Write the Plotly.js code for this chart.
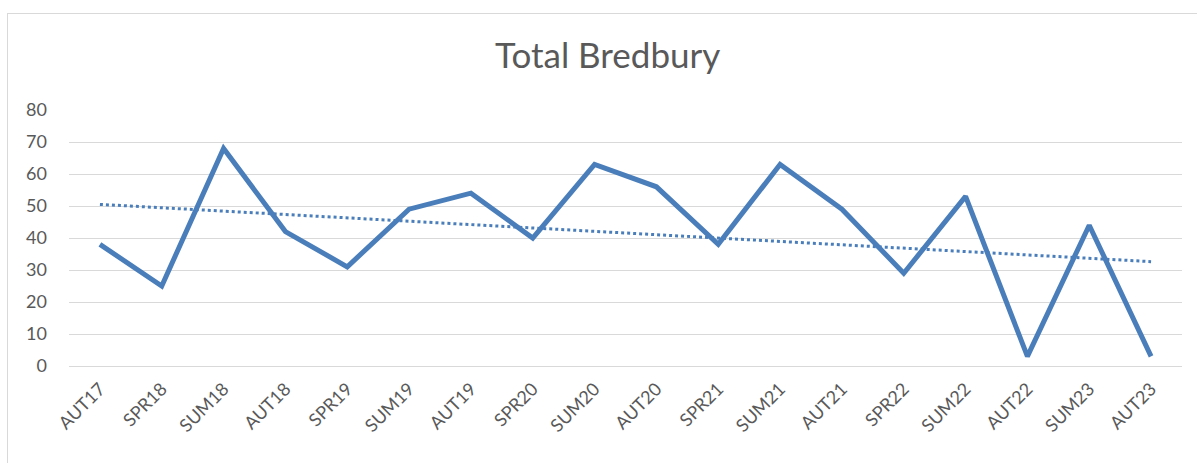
<!DOCTYPE html>
<html>
<head>
<meta charset="utf-8">
<script src="https://cdn.plot.ly/plotly-3.0.1.min.js"></script>
<style>
  html, body { margin: 0; padding: 0; background: #fff; overflow: hidden; }
  #frame { position: absolute; left: 7px; top: 13px; width: 1300px; height: 600px; border: 1px solid #d9d9d9; }
  #chart { position: absolute; left: 0; top: 0; width: 1197px; height: 463px; }
</style>
</head>
<body>
<div id="frame"></div>
<div id="chart"></div>
<script>
const categories = ["AUT17","SPR18","SUM18","AUT18","SPR19","SUM19","AUT19","SPR20","SUM20","AUT20","SPR21","SUM21","AUT21","SPR22","SUM22","AUT22","SUM23","AUT23"];
const totals = [38, 25, 68, 42, 31, 49, 54, 40, 63, 56, 38, 63, 49, 29, 53, 3, 44, 3];
const yTicks = [0, 10, 20, 30, 40, 50, 60, 70, 80];

// linear trendline (least squares) derived from the series
const n = totals.length;
const xs = totals.map((_, i) => i + 1);
const mx = xs.reduce((a, b) => a + b, 0) / n;
const my = totals.reduce((a, b) => a + b, 0) / n;
let sxy = 0, sxx = 0;
for (let i = 0; i < n; i++) { sxy += (xs[i] - mx) * (totals[i] - my); sxx += (xs[i] - mx) ** 2; }
const slope = sxy / sxx, intercept = my - slope * mx;
const trend = xs.map(x => intercept + slope * x);

const color = "#4a7ebb";
const data = [
  { x: categories, y: totals, type: "scatter", mode: "lines", line: { color: color, width: 5 }, hoverinfo: "x+y" },
  { x: categories, y: trend, type: "scatter", mode: "lines", line: { color: color, width: 3, dash: "dot" }, hoverinfo: "skip" }
];
const font = "Lato, 'Open Sans', sans-serif";
const layout = {
  width: 1197, height: 463,
  paper_bgcolor: "rgba(0,0,0,0)", plot_bgcolor: "rgba(0,0,0,0)",
  margin: { l: 69, r: 15, t: 110, b: 97 },
  showlegend: false,
  title: { text: "Total Bredbury", x: 0.484, xref: "paper", y: 0.88, yref: "container", xanchor: "center", yanchor: "middle",
           font: { family: font, size: 35, color: "#595959" } },
  xaxis: {
    type: "category", tickangle: -45, showgrid: false, showline: false, zeroline: false,
    ticks: "", ticklabelstandoff: 8, tickfont: { family: font, size: 18, color: "#595959" }, range: [-0.5, 17.5], fixedrange: true
  },
  yaxis: {
    range: [0, 80], tickvals: yTicks, ticktext: yTicks.map(String), showgrid: true, gridcolor: "#d9d9d9", gridwidth: 1,
    zeroline: true, zerolinecolor: "#d9d9d9", zerolinewidth: 1, showline: false, ticks: "",
    ticklabelstandoff: 21, tickfont: { family: font, size: 18, color: "#595959" }, fixedrange: true
  }
};
Plotly.newPlot("chart", data, layout, { displayModeBar: false, staticPlot: true });
</script>
</body>
</html>
